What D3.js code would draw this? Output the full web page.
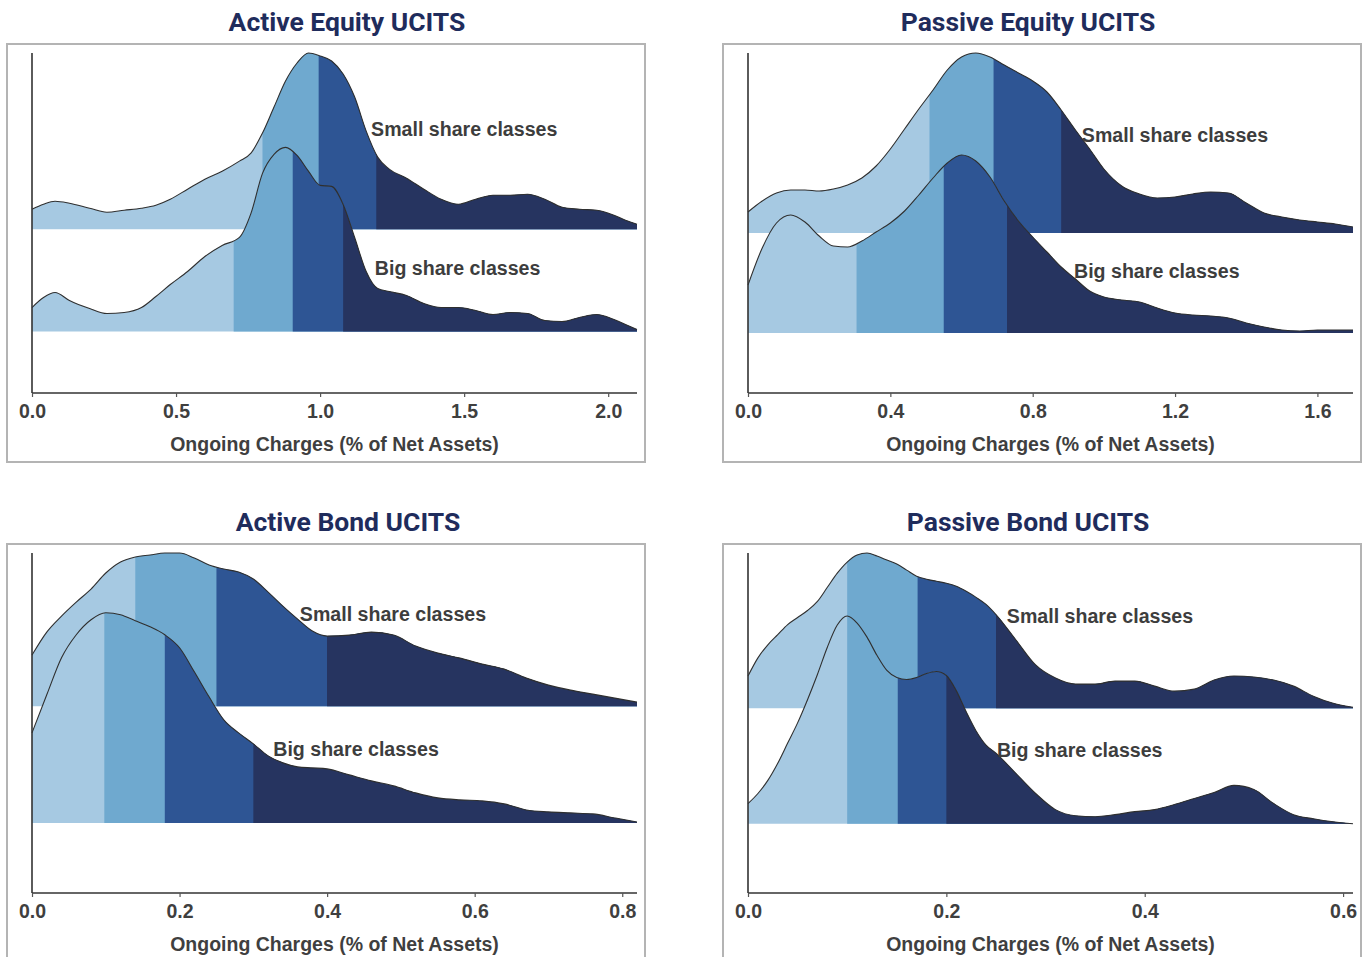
<!DOCTYPE html>
<html>
<head>
<meta charset="utf-8">
<script src="https://cdn.jsdelivr.net/npm/d3@7/dist/d3.min.js"></script>
<style>
  body { margin: 0; background: #ffffff; }
  svg { display: block; }
</style>
</head>
<body>
<svg id="chart" width="1366" height="957"></svg>
<script>

// Active Equity UCITS
var activeEquityX = [0, 0.04, 0.08, 0.13, 0.2, 0.26, 0.32, 0.38, 0.43, 0.48, 0.54, 0.6, 0.66, 0.72, 0.76, 0.8, 0.84, 0.88, 0.92, 0.96, 1.0, 1.04, 1.08, 1.12, 1.16, 1.2, 1.24, 1.3, 1.36, 1.42, 1.48, 1.54, 1.6, 1.66, 1.72, 1.78, 1.84, 1.9, 1.96, 2.02, 2.06, 2.1];
var activeEquitySmall = [0.20, 0.25, 0.28, 0.26, 0.21, 0.17, 0.19, 0.21, 0.24, 0.30, 0.40, 0.50, 0.58, 0.68, 0.76, 0.96, 1.22, 1.48, 1.66, 1.76, 1.73, 1.68, 1.55, 1.32, 0.98, 0.72, 0.60, 0.51, 0.40, 0.30, 0.25, 0.30, 0.34, 0.34, 0.35, 0.30, 0.22, 0.20, 0.19, 0.14, 0.09, 0.05];
var activeEquityBig = [0.24, 0.34, 0.39, 0.31, 0.23, 0.18, 0.19, 0.24, 0.35, 0.47, 0.60, 0.75, 0.86, 0.94, 1.18, 1.58, 1.77, 1.84, 1.76, 1.60, 1.46, 1.45, 1.27, 0.94, 0.60, 0.43, 0.40, 0.36, 0.28, 0.24, 0.24, 0.21, 0.17, 0.19, 0.18, 0.11, 0.10, 0.14, 0.17, 0.12, 0.07, 0.02];
var activeEquitySmallCuts = [0.80, 0.995, 1.195];
var activeEquityBigCuts = [0.70, 0.905, 1.08];
var activeEquityTicks = [0, 0.5, 1.0, 1.5, 2.0];

// Passive Equity UCITS
var passiveEquityX = [0, 0.04, 0.08, 0.12, 0.16, 0.2, 0.24, 0.28, 0.32, 0.36, 0.4, 0.44, 0.48, 0.52, 0.56, 0.6, 0.64, 0.68, 0.72, 0.76, 0.8, 0.84, 0.88, 0.92, 0.96, 1.0, 1.05, 1.1, 1.15, 1.2, 1.25, 1.3, 1.35, 1.4, 1.45, 1.5, 1.55, 1.6, 1.65, 1.7];
var passiveEquitySmall = [0.21, 0.32, 0.40, 0.43, 0.43, 0.42, 0.44, 0.48, 0.55, 0.67, 0.84, 1.04, 1.24, 1.43, 1.63, 1.76, 1.80, 1.76, 1.68, 1.60, 1.52, 1.41, 1.23, 1.03, 0.84, 0.64, 0.47, 0.39, 0.35, 0.36, 0.39, 0.41, 0.40, 0.30, 0.20, 0.16, 0.13, 0.11, 0.09, 0.06];
var passiveEquityBig = [0.48, 0.85, 1.10, 1.18, 1.11, 0.97, 0.87, 0.86, 0.92, 1.01, 1.10, 1.22, 1.38, 1.55, 1.70, 1.78, 1.72, 1.56, 1.32, 1.12, 0.96, 0.81, 0.66, 0.54, 0.42, 0.36, 0.33, 0.31, 0.25, 0.20, 0.18, 0.17, 0.15, 0.10, 0.06, 0.03, 0.02, 0.03, 0.03, 0.03];
var passiveEquitySmallCuts = [0.51, 0.69, 0.88];
var passiveEquityBigCuts = [0.305, 0.55, 0.728];
var passiveEquityTicks = [0, 0.4, 0.8, 1.2, 1.6];

// Active Bond UCITS
var activeBondX = [0, 0.02, 0.04, 0.06, 0.08, 0.1, 0.12, 0.14, 0.16, 0.18, 0.2, 0.22, 0.24, 0.26, 0.28, 0.3, 0.32, 0.34, 0.36, 0.38, 0.4, 0.43, 0.46, 0.49, 0.52, 0.55, 0.58, 0.61, 0.64, 0.67, 0.7, 0.73, 0.76, 0.79, 0.82];
var activeBondSmall = [0.51, 0.74, 0.90, 1.04, 1.17, 1.33, 1.44, 1.49, 1.51, 1.53, 1.53, 1.48, 1.41, 1.37, 1.34, 1.27, 1.14, 1.00, 0.87, 0.75, 0.70, 0.71, 0.74, 0.71, 0.60, 0.53, 0.48, 0.42, 0.37, 0.28, 0.21, 0.16, 0.12, 0.08, 0.04];
var activeBondBig = [0.90, 1.28, 1.65, 1.88, 2.03, 2.10, 2.08, 2.02, 1.96, 1.88, 1.75, 1.51, 1.26, 1.03, 0.90, 0.79, 0.67, 0.60, 0.56, 0.55, 0.54, 0.48, 0.42, 0.37, 0.30, 0.25, 0.23, 0.22, 0.19, 0.13, 0.11, 0.10, 0.09, 0.05, 0.01];
var activeBondSmallCuts = [0.14, 0.25, 0.40];
var activeBondBigCuts = [0.098, 0.18, 0.30];
var activeBondTicks = [0, 0.2, 0.4, 0.6, 0.8];

// Passive Bond UCITS
var passiveBondX = [0, 0.01, 0.02, 0.03, 0.04, 0.05, 0.06, 0.07, 0.08, 0.09, 0.1, 0.11, 0.12, 0.13, 0.14, 0.15, 0.16, 0.17, 0.18, 0.19, 0.2, 0.21, 0.22, 0.23, 0.24, 0.25, 0.27, 0.29, 0.31, 0.33, 0.35, 0.37, 0.39, 0.41, 0.43, 0.45, 0.47, 0.49, 0.51, 0.53, 0.55, 0.57, 0.59, 0.61];
var passiveBondSmall = [0.32, 0.50, 0.63, 0.73, 0.83, 0.90, 0.97, 1.06, 1.20, 1.34, 1.45, 1.52, 1.54, 1.51, 1.47, 1.43, 1.37, 1.31, 1.28, 1.26, 1.24, 1.21, 1.16, 1.10, 1.03, 0.93, 0.68, 0.43, 0.30, 0.24, 0.24, 0.27, 0.27, 0.22, 0.17, 0.19, 0.28, 0.32, 0.31, 0.28, 0.22, 0.12, 0.05, 0.01];
var passiveBondBig = [0.20, 0.30, 0.43, 0.60, 0.80, 1.00, 1.23, 1.48, 1.75, 1.97, 2.06, 1.99, 1.85, 1.67, 1.52, 1.45, 1.43, 1.45, 1.49, 1.51, 1.47, 1.32, 1.11, 0.92, 0.78, 0.70, 0.50, 0.30, 0.14, 0.08, 0.07, 0.09, 0.12, 0.14, 0.19, 0.25, 0.31, 0.38, 0.34, 0.20, 0.09, 0.05, 0.02, 0.00];
var passiveBondSmallCuts = [0.10, 0.171, 0.25];
var passiveBondBigCuts = [0.10, 0.151, 0.20];
var passiveBondTicks = [0, 0.2, 0.4, 0.6];

var quartileColors = ['#a6c9e2', '#6fa9cf', '#2e5594', '#263460'];
var axisTitle = 'Ongoing Charges (% of Net Assets)';

var panels = [
  { title: 'Active Equity UCITS', col: 0, row: 0, titleX: 347, xMax: 2.1,
    xs: activeEquityX, small: activeEquitySmall, big: activeEquityBig,
    smallCuts: activeEquitySmallCuts, bigCuts: activeEquityBigCuts, ticks: activeEquityTicks,
    smallLabel: [1.177, 2.98], bigLabel: [1.19, 1.62] },
  { title: 'Passive Equity UCITS', col: 1, row: 0, titleX: 1028, xMax: 1.7,
    xs: passiveEquityX, small: passiveEquitySmall, big: passiveEquityBig,
    smallCuts: passiveEquitySmallCuts, bigCuts: passiveEquityBigCuts, ticks: passiveEquityTicks,
    smallLabel: [0.938, 2.98], bigLabel: [0.916, 1.62] },
  { title: 'Active Bond UCITS', col: 0, row: 1, titleX: 348, xMax: 0.82,
    xs: activeBondX, small: activeBondSmall, big: activeBondBig,
    smallCuts: activeBondSmallCuts, bigCuts: activeBondBigCuts, ticks: activeBondTicks,
    smallLabel: [0.363, 2.79], bigLabel: [0.327, 1.63] },
  { title: 'Passive Bond UCITS', col: 1, row: 1, titleX: 1028, xMax: 0.61,
    xs: passiveBondX, small: passiveBondSmall, big: passiveBondBig,
    smallCuts: passiveBondSmallCuts, bigCuts: passiveBondBigCuts, ticks: passiveBondTicks,
    smallLabel: [0.261, 2.80], bigLabel: [0.251, 1.635] }
];

var svg = d3.select('#chart');
var frameW = 638, frameH = 418;
var plot = { left: 25, right: 630, top: 9, bottom: 349 };
var ridgeScale = 1.8; // tallest ridge = 1.8 row spacings, like ggridges
var textFont = '"Liberation Sans", Arial, sans-serif';

panels.forEach(drawPanel);

function drawPanel(p, idx) {
  var fx = 7 + p.col * 716;
  var fy = 44 + p.row * 500;

  // title sits above the frame
  svg.append('text')
    .attr('x', p.titleX)
    .attr('y', fy - 13)
    .attr('text-anchor', 'middle')
    .style('font-family', 'Roboto, "Noto Sans", sans-serif')
    .style('font-weight', 700)
    .style('font-size', '26.5px')
    .style('fill', '#1f2c5c')
    .text(p.title);

  var g = svg.append('g').attr('transform', 'translate(' + fx + ',' + fy + ')');

  g.append('rect')
    .attr('x', 0).attr('y', 0)
    .attr('width', frameW).attr('height', frameH)
    .attr('fill', '#ffffff')
    .attr('stroke', '#b4b4b4')
    .attr('stroke-width', 2);

  var x = d3.scaleLinear().domain([0, p.xMax]).range([plot.left, plot.right]);

  // normalise densities so the tallest ridge spans ridgeScale rows
  var maxDens = d3.max(p.small.concat(p.big));
  var hScale = ridgeScale / maxDens;
  var y = d3.scaleLinear()
    .domain([0.4, 2 + d3.max(p.small) * hScale])
    .range([plot.bottom, plot.top]);

  // upper ridge first, the lower one is painted over it
  drawRidge(g, 'p' + idx + 's', p.xs, p.small, p.smallCuts, 2, x, y, hScale);
  drawRidge(g, 'p' + idx + 'b', p.xs, p.big, p.bigCuts, 1, x, y, hScale);

  // axes
  g.append('line')
    .attr('x1', plot.left).attr('x2', plot.left)
    .attr('y1', plot.top).attr('y2', plot.bottom)
    .attr('stroke', '#333333').attr('stroke-width', 1.6);

  var xAxis = d3.axisBottom(x)
    .tickValues(p.ticks)
    .tickFormat(d3.format('.1f'))
    .tickSize(4)
    .tickPadding(7);

  var ax = g.append('g')
    .attr('transform', 'translate(0,' + plot.bottom + ')')
    .call(xAxis);
  ax.select('.domain')
    .attr('d', 'M' + plot.left + ',0H' + plot.right)
    .attr('stroke', '#333333').attr('stroke-width', 1.6);
  ax.selectAll('.tick line').attr('stroke', '#555555').attr('stroke-width', 1.2);
  ax.selectAll('.tick text')
    .style('font-family', textFont)
    .style('font-weight', 700)
    .style('font-size', '19.5px')
    .style('fill', '#3f3f3f');

  g.append('text')
    .attr('x', (plot.left + plot.right) / 2)
    .attr('y', plot.bottom + 58)
    .attr('text-anchor', 'middle')
    .style('font-family', textFont)
    .style('font-weight', 700)
    .style('font-size', '19.5px')
    .style('fill', '#3f3f3f')
    .text(axisTitle);

  // ridge labels
  [[p.smallLabel, 'Small share classes'], [p.bigLabel, 'Big share classes']].forEach(function (l) {
    g.append('text')
      .attr('x', x(l[0][0]))
      .attr('y', y(l[0][1]))
      .attr('dy', '0.35em')
      .style('font-family', textFont)
      .style('font-weight', 700)
      .style('font-size', '19.6px')
      .style('fill', '#3d3d3d')
      .text(l[1]);
  });
}

function drawRidge(g, id, xs, dens, cuts, rowPos, x, y, hScale) {
  var pts = xs.map(function (v, i) { return { x: v, d: dens[i] }; });
  var base = y(rowPos);

  var area = d3.area()
    .curve(d3.curveMonotoneX)
    .x(function (d) { return x(d.x); })
    .y0(base)
    .y1(function (d) { return y(rowPos + d.d * hScale); });

  var line = d3.line()
    .curve(d3.curveMonotoneX)
    .x(function (d) { return x(d.x); })
    .y(function (d) { return y(rowPos + d.d * hScale); });

  // first quartile colour covers everything, later ones are clipped from their cut point on
  g.append('path')
    .attr('d', area(pts))
    .attr('fill', quartileColors[0]);

  cuts.forEach(function (c, k) {
    var clipId = 'clip-' + id + '-' + k;
    g.append('clipPath')
      .attr('id', clipId)
      .append('rect')
      .attr('x', x(c))
      .attr('y', 0)
      .attr('width', x(xs[xs.length - 1]) - x(c) + 2)
      .attr('height', frameH);

    g.append('path')
      .attr('d', area(pts))
      .attr('fill', quartileColors[k + 1])
      .attr('clip-path', 'url(#' + clipId + ')');
  });

  g.append('path')
    .attr('d', line(pts))
    .attr('fill', 'none')
    .attr('stroke', '#2f2f2f')
    .attr('stroke-width', 1.1);
}
</script>
</body>
</html>
